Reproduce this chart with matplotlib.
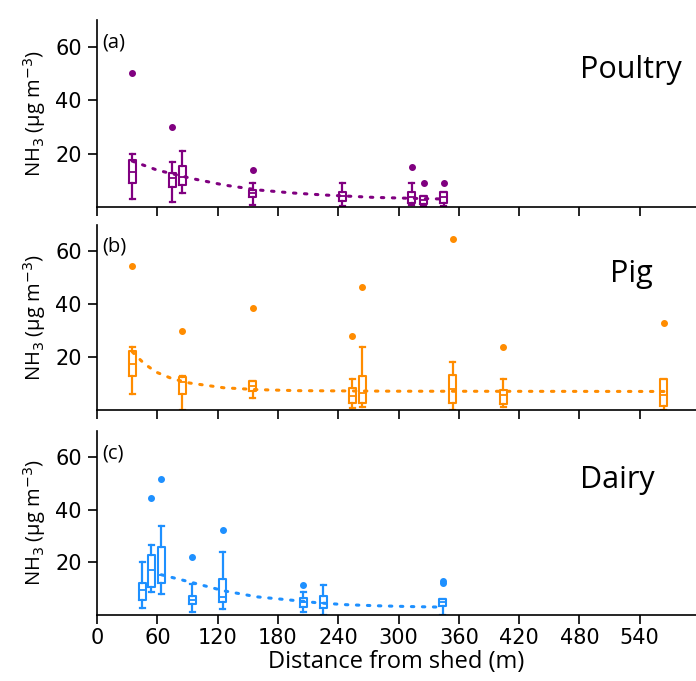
import matplotlib.pyplot as plt

# distances of sampling points (m) and box statistics per farm type
poultry_dist = [35, 75, 85, 155, 244, 313, 325, 345]
poultry_q = [  # whislo, q1, med, q3, whishi
    (3.0, 9.0, 13.2, 17.5, 19.8),
    (2.0, 7.5, 10.8, 12.7, 16.9),
    (5.3, 8.2, 11.3, 15.3, 21.0),
    (0.7, 3.9, 5.1, 6.3, 9.0),
    (0.5, 2.4, 4.1, 5.5, 9.0),
    (0.7, 1.6, 3.6, 5.7, 9.0),
    (0.3, 1.1, 2.6, 4.1, 4.1),
    (0.5, 1.4, 3.6, 5.7, 5.7),
]
poultry_out = [[50], [30], [], [14], [], [15], [9], [9]]
poultry_fit_d = [35, 60, 94, 127, 160, 193, 226, 276, 320, 345]
poultry_fit_v = [17.2, 13.8, 10.7, 8.2, 6.4, 5.3, 4.5, 3.6, 3.2, 3.0]

pig_dist = [35, 85, 155, 254, 264, 354, 404, 564]
pig_q = [
    (6.1, 12.8, 17.3, 22.4, 24.0),
    (0.0, 6.1, 10.4, 12.3, 12.8),
    (4.7, 7.0, 9.0, 11.0, 11.0),
    (0.6, 2.6, 5.1, 8.3, 11.9),
    (1.3, 2.8, 6.4, 12.8, 23.7),
    (0.0, 2.5, 8.0, 13.2, 18.0),
    (1.3, 2.3, 5.5, 7.7, 11.9),
    (0.0, 1.5, 5.8, 11.9, 11.9),
]
pig_out = [[54.5], [30], [38.4], [27.8], [46.4], [64.7], [23.7], [33]]
pig_fit_d = [35, 47, 59, 75, 92, 126, 159, 200, 300, 565]
pig_fit_v = [22.0, 17.5, 14.3, 11.8, 10.2, 8.4, 7.7, 7.3, 7.1, 7.0]

dairy_dist = [45, 54, 64, 95, 125, 205, 225, 344]
dairy_q = [
    (2.8, 5.5, 9.6, 12.2, 20.1),
    (8.6, 10.5, 17.0, 22.7, 26.5),
    (8.1, 12.2, 15.1, 26.0, 33.7),
    (1.3, 4.2, 5.8, 7.4, 11.8),
    (2.3, 5.1, 7.0, 13.6, 24.0),
    (1.3, 3.0, 5.1, 6.4, 8.6),
    (0.0, 2.6, 4.7, 7.3, 11.5),
    (0.0, 3.5, 5.0, 6.0, 6.0),
]
dairy_out = [[], [44.7], [51.7], [22], [32.3], [11.5], [], [12.0, 13.0]]
dairy_fit_d = [64, 92, 126, 159, 189, 220, 248, 278, 310, 340]
dairy_fit_v = [15.3, 12.6, 9.2, 6.9, 5.8, 4.6, 3.9, 3.5, 3.2, 3.0]

panels = [
    ("(a)", "Poultry", "#800080", poultry_dist, poultry_q, poultry_out, poultry_fit_d, poultry_fit_v),
    ("(b)", "Pig", "#ff8c00", pig_dist, pig_q, pig_out, pig_fit_d, pig_fit_v),
    ("(c)", "Dairy", "#1e90ff", dairy_dist, dairy_q, dairy_out, dairy_fit_d, dairy_fit_v),
]
name_x = [0.806, 0.856, 0.806]

fig = plt.figure(figsize=(6.96, 6.81), dpi=100)
boxes = [(0.1394, 0.696, 0.8606, 0.2746),
         (0.1394, 0.398, 0.8606, 0.2717),
         (0.1394, 0.097, 0.8606, 0.2700)]
label_font = ['Open Sans', 'DejaVu Sans']

for i, (tag, name, col, dist, q, out, fd, fv) in enumerate(panels):
    ax = fig.add_axes(boxes[i])
    stats = []
    for (lo, q1, med, q3, hi), fl in zip(q, out):
        stats.append(dict(whislo=lo, q1=q1, med=med, q3=q3, whishi=hi, fliers=fl))
    ax.bxp(stats, positions=dist, widths=7, capwidths=5, manage_ticks=False,
           boxprops=dict(color=col, linewidth=1.5),
           whiskerprops=dict(color=col, linewidth=1.6),
           capprops=dict(color=col, linewidth=1.6),
           medianprops=dict(color=col, linewidth=1.3),
           flierprops=dict(marker='o', markersize=4, markerfacecolor=col,
                           markeredgecolor=col))
    ax.plot(fd, fv, linestyle=(0, (0.8, 2.8)), color=col, linewidth=2.2,
            dash_capstyle='round')

    ax.set_xlim(0, 596)
    ax.set_ylim(0, 70)
    ax.set_yticks([20, 40, 60])
    ax.set_xticks(range(0, 541, 60))
    ax.spines['top'].set_visible(False)
    ax.spines['right'].set_visible(False)
    ax.spines['left'].set_linewidth(1.2)
    ax.spines['bottom'].set_linewidth(1.2)
    ax.tick_params(labelsize=15, length=6.5, width=1.2, pad=4.5)
    ax.set_ylabel("NH$_3$ (μg m$^{-3}$)", fontsize=14.5, family=label_font,
                  labelpad=5)
    ax.text(0.008, 0.935, tag, transform=ax.transAxes, fontsize=14.5,
            va='top', family=label_font)
    ax.text(name_x[i], 0.69, name, transform=ax.transAxes, fontsize=22,
            family=label_font)
    if i < 2:
        ax.tick_params(labelbottom=False)
    else:
        ax.tick_params(axis='x', pad=3)
        ax.set_xlabel("Distance from shed (m)", fontsize=17, family=label_font,
                      labelpad=1)

fig.savefig("out.png", dpi=100)
